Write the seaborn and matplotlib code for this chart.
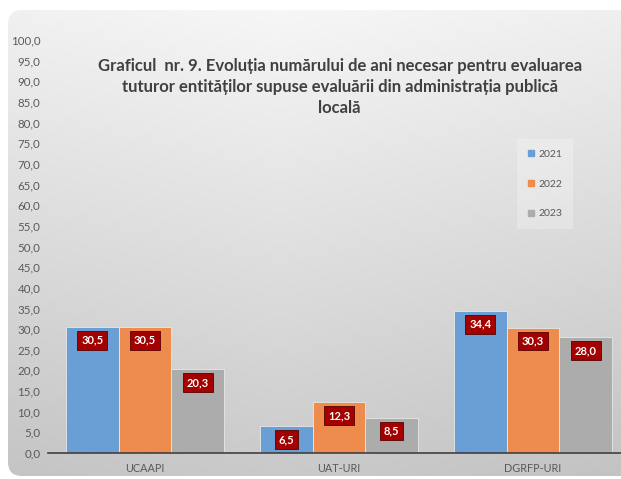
import numpy as np
import pandas as pd
import matplotlib
matplotlib.use("Agg")
import matplotlib.pyplot as plt
from matplotlib.patches import FancyBboxPatch
from matplotlib.lines import Line2D
import seaborn as sns

categories = ["UCAAPI", "UAT-URI", "DGRFP-URI"]
years = ["2021", "2022", "2023"]
values_2021 = [30.5, 6.5, 34.4]
values_2022 = [30.5, 12.3, 30.3]
values_2023 = [20.3, 8.5, 28.0]
colors = ["#6a9fd5", "#ee8c4d", "#acacac"]
title = ("Graficul  nr. 9. Evoluția numărului de ani necesar pentru evaluarea\n"
         "tuturor entităților supuse evaluării din administrația publică\n"
         "locală")

rows = []
for yr, vals in zip(years, [values_2021, values_2022, values_2023]):
    for c, v in zip(categories, vals):
        rows.append({"cat": c, "year": yr, "val": v})
df = pd.DataFrame(rows)

sns.set_style("white")
plt.rcParams["font.family"] = ["Lato", "DejaVu Sans"]

W, H = 621, 479
fig = plt.figure(figsize=(W / 100, H / 100), dpi=100)
fig.patch.set_facecolor("white")

# background panel with gradient
bg = fig.add_axes([0, 0, 1, 1], zorder=-5)
bg.set_xlim(0, W)
bg.set_ylim(H, 0)
bg.axis("off")
yy, xx = np.mgrid[0:H, 0:W]
g = 0.97 - 0.18 * (yy / H) - 0.05 * np.abs(xx - W * 0.45) / W
img = np.dstack([g, g, g])
im = bg.imshow(img, extent=(0, W, H, 0), aspect="auto", interpolation="bilinear")
panel = FancyBboxPatch((8, 10), 660, 466, boxstyle="round,pad=0,rounding_size=14",
                       transform=bg.transData, facecolor="none", edgecolor="none")
bg.add_patch(panel)
im.set_clip_path(panel)

ax = fig.add_axes([48 / W, 1 - 453 / H, 582 / W, 413 / H])
ax.set_facecolor("none")
sns.barplot(data=df, x="cat", y="val", hue="year", palette=colors, width=0.815,
            saturation=1, ax=ax, edgecolor="#e8e8e8", linewidth=0.6, legend=False)

ax.set_xlim(-0.5, 2.5)
ax.set_ylim(0, 100)
ax.set_yticks(np.arange(0, 101, 5))
ax.set_yticklabels([f"{v:.1f}".replace(".", ",") for v in np.arange(0, 101, 5)])
ax.tick_params(axis="y", length=0, pad=5.5, labelsize=8.3, labelcolor="#595959")
ax.set_xticks(range(3))
ax.set_xticklabels(categories)
ax.set_xticks([-0.5, 0.5, 1.5, 2.5], minor=True)
ax.tick_params(axis="x", which="both", direction="inout", length=5, width=1,
               color="#404040", labelsize=7.8, labelcolor="#595959", pad=5)
ax.set_xlabel("")
ax.set_ylabel("")
for s in ["top", "right", "left"]:
    ax.spines[s].set_visible(False)
ax.spines["bottom"].set_color("#404040")
ax.spines["bottom"].set_linewidth(1.2)

for p in ax.patches:
    h = p.get_height()
    if h is None or np.isnan(h) or h <= 0:
        continue
    xc = p.get_x() + p.get_width() / 2
    ax.text(xc, h - 3.2, f"{h:.1f}".replace(".", ","), ha="center", va="center",
            color="white", fontsize=8, fontweight="bold",
            bbox=dict(boxstyle="square,pad=0.35", fc="#a30000", ec="#5a0000", lw=0.6))

fig.text(0.547, 1 - 87 / H, title, ha="center", va="center", fontsize=12,
         fontweight="bold", color="#404040", linespacing=1.36)

handles = [Line2D([0], [0], marker="s", linestyle="none", markersize=4.5,
                  markerfacecolor=c, markeredgecolor=c) for c in colors]
leg = fig.legend(handles, years, loc="center", bbox_to_anchor=(545 / W, 1 - 184 / H),
                 fontsize=7.5, labelcolor="#595959", frameon=True, labelspacing=1.95,
                 handlelength=0.8, handletextpad=0.3, borderpad=1.0, fancybox=False)
leg.get_frame().set_facecolor("white")
leg.get_frame().set_alpha(0.25)
leg.get_frame().set_edgecolor("none")

fig.savefig("out.png", dpi=100)
